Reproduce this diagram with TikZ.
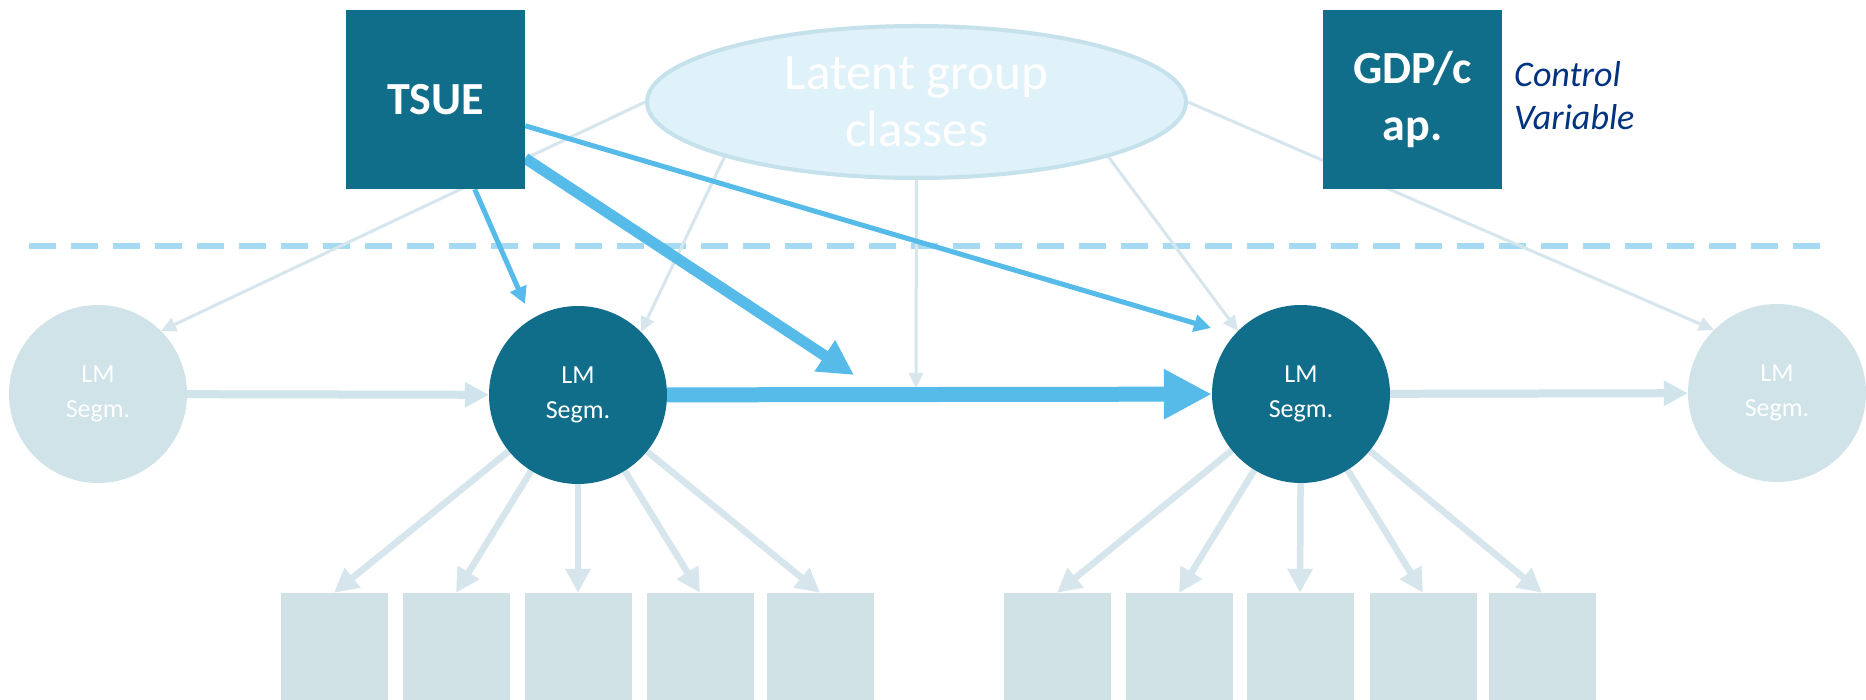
\documentclass[tikz,border=0pt]{standalone}
\usepackage{fontspec}
\setmainfont{Carlito}
\usetikzlibrary{arrows.meta,shapes.geometric}
\definecolor{teal1}{RGB}{17,110,138}
\definecolor{bblue}{RGB}{86,187,233}
\definecolor{lcirc}{RGB}{207,227,233}
\definecolor{lbox}{RGB}{209,226,231}
\definecolor{larrow}{RGB}{207,228,235}
\definecolor{lline}{RGB}{214,230,236}
\definecolor{dashc}{RGB}{166,218,242}
\definecolor{ellfill}{RGB}{223,241,249}
\definecolor{elldraw}{RGB}{197,225,235}
\definecolor{navyc}{RGB}{0,51,128}
\pgfdeclarelayer{back}
\pgfdeclarelayer{background}
\pgfsetlayers{back,background,main}
\begin{document}
\begin{tikzpicture}[x=1pt,y=-1pt,
  tealbox/.style={fill=teal1, text=white, minimum width=179pt, minimum height=179pt, inner sep=0pt, font=\fontsize{46}{57}\selectfont\bfseries, align=center},
  latent/.style={ellipse, fill=ellfill, draw=elldraw, line width=4pt, minimum width=539pt, minimum height=152pt, inner xsep=0pt, inner ysep=-40pt, text=white, font=\fontsize{51}{57}\selectfont, align=center},
  lmcircle/.style={circle, minimum size=178pt, inner sep=0pt, text=white, font=\fontsize{26}{35}\selectfont, align=center},
  lcircle/.style={lmcircle, fill=lcirc},
  dcircle/.style={lmcircle, fill=teal1},
  indbox/.style={fill=lbox, minimum width=107pt, minimum height=107pt, inner sep=0pt},
  ctrltext/.style={text=navyc, font=\fontsize{36}{43}\selectfont\itshape, align=left, inner sep=0pt, anchor=west},
  latline/.style={draw=lline, line width=3pt, -{Triangle[length=15pt,width=14pt]}},
  thinblue/.style={draw=bblue, line width=5pt, -{Triangle[length=17pt,width=17pt]}},
  thickblue/.style={draw=bblue, line width=11pt, -{Triangle[length=35pt,width=35pt]}},
  mainblue/.style={draw=bblue, line width=15pt, -{Triangle[length=48pt,width=47pt]}},
  lighth/.style={draw=larrow, line width=8pt, -{Triangle[length=24pt,width=24pt]}},
  indarrow/.style={draw=lline, line width=6.5pt, -{Triangle[length=24pt,width=24pt]}},
  sep/.style={draw=dashc, line width=6pt, dash pattern=on 27pt off 15pt}
]
\begin{pgfonlayer}{back}
\fill[white] (0,0) rectangle (1866,700);
\end{pgfonlayer}
\useasboundingbox (0,0) rectangle (1866,700);

% nodes
\node[tealbox] (tsue) at (435.5,99.5) {TSUE};
\node[tealbox] (gdp) at (1412.5,99.5) {GDP/c\\ap.};
\node[ctrltext] (ctrl) at (1514,96) {Control\\Variable};
\node[latent] (lat) at (916.5,102) {Latent group\\classes};
\node[lcircle] (c1) at (98,394) {LM\\Segm.};
\node[dcircle] (c2) at (578,395) {LM\\Segm.};
\node[dcircle] (c3) at (1301,394) {LM\\Segm.};
\node[lcircle] (c4) at (1777,393) {LM\\Segm.};
\node[indbox] (b1) at (334,646.5) {};
\node[indbox] (b2) at (456,646.5) {};
\node[indbox] (b3) at (578,646.5) {};
\node[indbox] (b4) at (700,646.5) {};
\node[indbox] (b5) at (820,646.5) {};
\node[indbox] (b6) at (1057,646.5) {};
\node[indbox] (b7) at (1179,646.5) {};
\node[indbox] (b8) at (1300,646.5) {};
\node[indbox] (b9) at (1423,646.5) {};
\node[indbox] (b10) at (1542,646.5) {};

% free arrow ends
\coordinate (lm) at (916,388);
\coordinate (tm) at (854,375);
\coordinate (t2) at (525,304);
\coordinate (t3) at (1211,328);
\coordinate (dl) at (29,246);
\coordinate (dr) at (1821,246);

\begin{pgfonlayer}{back}
\draw[sep] (dl) -- (dr);
\end{pgfonlayer}

\begin{pgfonlayer}{background}
% latent class effects
\draw[latline] (lat.180) -- (c1.45);
\draw[latline] (lat.196) -- (c2.45);
\draw[latline] (lat.south) -- (lm);
\draw[latline] (lat.344) -- (c3.135);
\draw[latline] (lat.east) -- (c4.135);
% indicators
\foreach \b in {b1,b2,b3,b4,b5} {\draw[indarrow] (c2) -- (\b.north);}
\foreach \b in {b6,b7,b8,b9,b10} {\draw[indarrow] (c3) -- (\b.north);}
% horizontal paths
\draw[lighth] (c1) -- (c2);
\draw[lighth] (c3) -- (c4);
\draw[mainblue] (c2) -- (c3);
% TSUE effects
\draw[thinblue] (tsue) -- (t2);
\draw[thinblue] (tsue) -- (t3);
\draw[thickblue] (tsue) -- (tm);
\end{pgfonlayer}
\end{tikzpicture}
\end{document}
